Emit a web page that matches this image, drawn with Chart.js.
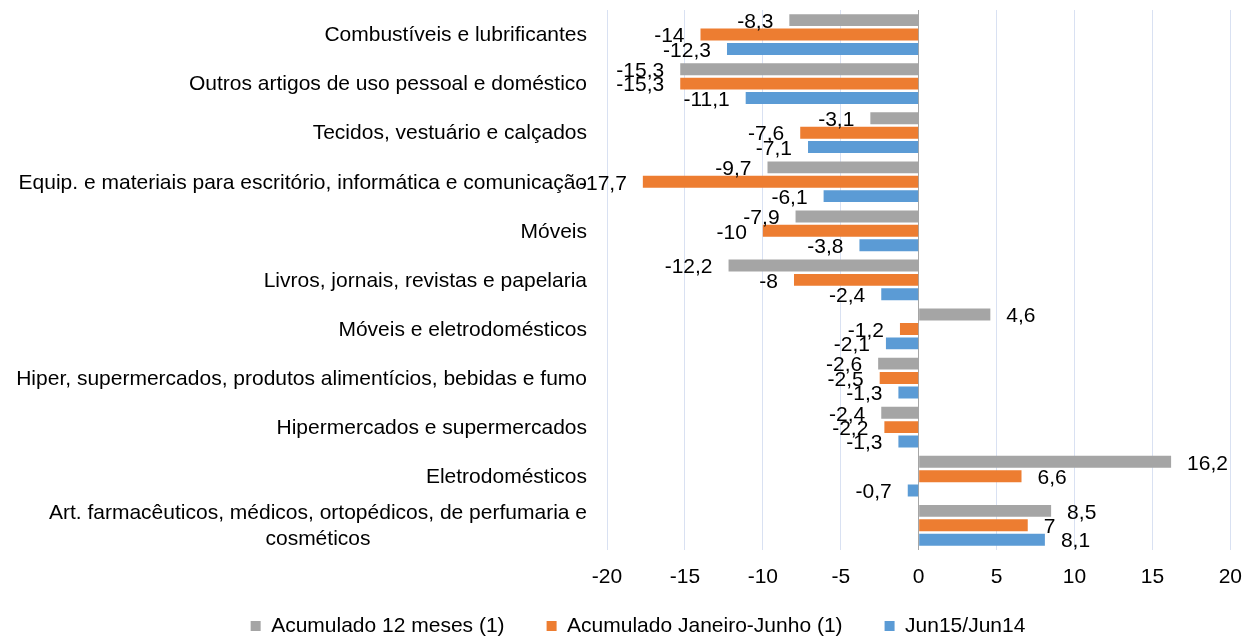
<!DOCTYPE html>
<html>
<head>
<meta charset="utf-8">
<script src="https://cdn.jsdelivr.net/npm/chart.js@4/dist/chart.umd.min.js"></script>
<style>
  html, body { margin: 0; padding: 0; background: #fff; }
  #wrap { width: 1257px; height: 639px; }
</style>
</head>
<body>
<div id="wrap"><canvas id="chart"></canvas></div>
<script>
// --- DATA ---
const categories = [
    'Combustíveis e lubrificantes',
    'Outros artigos de uso pessoal e doméstico',
    'Tecidos, vestuário e calçados',
    'Equip. e materiais para escritório, informática e comunicação',
    'Móveis',
    'Livros, jornais, revistas e papelaria',
    'Móveis e eletrodomésticos',
    'Hiper, supermercados, produtos alimentícios, bebidas e fumo',
    'Hipermercados e supermercados',
    'Eletrodomésticos',
    ['Art. farmacêuticos, médicos, ortopédicos, de perfumaria e', 'cosméticos']
];
const acum12 = [-8.3, -15.3, -3.1, -9.7, -7.9, -12.2, 4.6, -2.6, -2.4, 16.2, 8.5];
const acumJanJun = [-14, -15.3, -7.6, -17.7, -10, -8, -1.2, -2.5, -2.2, 6.6, 7];
const jun15jun14 = [-12.3, -11.1, -7.1, -6.1, -3.8, -2.4, -2.1, -1.3, -1.3, -0.7, 8.1];
const seriesNames = ['Acumulado 12 meses (1)', 'Acumulado Janeiro-Junho (1)', 'Jun15/Jun14'];
const xTicks = [-20, -15, -10, -5, 0, 5, 10, 15, 20];

const FONT = 'Liberation Sans, Arial, sans-serif';
const FS = 21;
const LEGEND_PAD = 42;

// value labels at bar ends
const valueLabels = {
    id: 'valueLabels',
    afterDatasetsDraw(chart) {
        const ctx = chart.ctx;
        ctx.save();
        ctx.font = FS + 'px ' + FONT;
        ctx.fillStyle = '#000';
        ctx.textBaseline = 'middle';
        chart.data.datasets.forEach((ds, i) => {
            chart.getDatasetMeta(i).data.forEach((bar, j) => {
                const v = ds.data[j];
                const txt = String(v).replace('.', ',');
                if (v < 0) {
                    ctx.textAlign = 'right';
                    ctx.fillText(txt, bar.x - 16, bar.y + 2);
                } else {
                    ctx.textAlign = 'left';
                    ctx.fillText(txt, bar.x + 16, bar.y + 2);
                }
            });
        });
        ctx.restore();
    }
};

// category labels, multi-line ones centred on themselves like Excel does
const catLabels = {
    id: 'catLabels',
    afterDraw(chart) {
        const ctx = chart.ctx;
        const y = chart.scales.y;
        const right = chart.chartArea.left - 20;
        ctx.save();
        ctx.font = FS + 'px ' + FONT;
        ctx.fillStyle = '#000';
        ctx.textBaseline = 'middle';
        ctx.textAlign = 'center';
        categories.forEach((c, i) => {
            const lines = Array.isArray(c) ? c : [c];
            const w = Math.max(...lines.map(l => ctx.measureText(l).width));
            const cy = y.getPixelForValue(i);
            const lh = 26;
            lines.forEach((l, k) => {
                ctx.fillText(l, right - w / 2, cy + (k - (lines.length - 1) / 2) * lh + 1);
            });
        });
        ctx.restore();
    }
};

// keep the legend short and put it where the reference has it
const legendPlace = {
    id: 'legendPlace',
    afterInit(chart) {
        const lg = chart.legend;
        const fit = lg.fit.bind(lg);
        lg.fit = function () { fit(); this.height = 34; };
    },
    afterLayout(chart) {
        const lg = chart.legend;
        lg.top = 626 - FS / 2 - LEGEND_PAD;
        lg.bottom = chart.height;
        lg.left += 20; lg.right += 20;
    }
};

const ctx = document.getElementById('chart').getContext('2d');
new Chart(ctx, {
    type: 'bar',
    data: {
        labels: categories,
        datasets: [
            { label: seriesNames[0], data: acum12, backgroundColor: '#A5A5A5' },
            { label: seriesNames[1], data: acumJanJun, backgroundColor: '#ED7D31' },
            { label: seriesNames[2], data: jun15jun14, backgroundColor: '#5B9BD5' }
        ]
    },
    options: {
        indexAxis: 'y',
        responsive: true,
        maintainAspectRatio: false,
        animation: false,
        datasets: { bar: { categoryPercentage: 0.88, barPercentage: 0.83 } },
        layout: { padding: { top: 10, right: 21, left: 0, bottom: 0 } },
        scales: {
            x: {
                min: -20, max: 20,
                afterBuildTicks: s => { s.ticks = xTicks.map(v => ({ value: v })); },
                grid: {
                    color: c => c.tick && c.tick.value === 0 ? '#A6A6A6' : '#D9E1F2',
                    drawTicks: false
                },
                border: { display: false },
                ticks: { color: '#000', padding: 15, font: { family: FONT, size: FS } }
            },
            y: {
                grid: { display: false },
                border: { display: false },
                ticks: { display: false },
                afterFit: s => { s.width = 607; }
            }
        },
        plugins: {
            legend: {
                position: 'bottom',
                labels: {
                    boxWidth: 10, boxHeight: 10,
                    padding: LEGEND_PAD,
                    color: '#000',
                    font: { family: FONT, size: FS }
                }
            },
            tooltip: { enabled: false }
        }
    },
    plugins: [valueLabels, catLabels, legendPlace]
});
</script>
</body>
</html>
